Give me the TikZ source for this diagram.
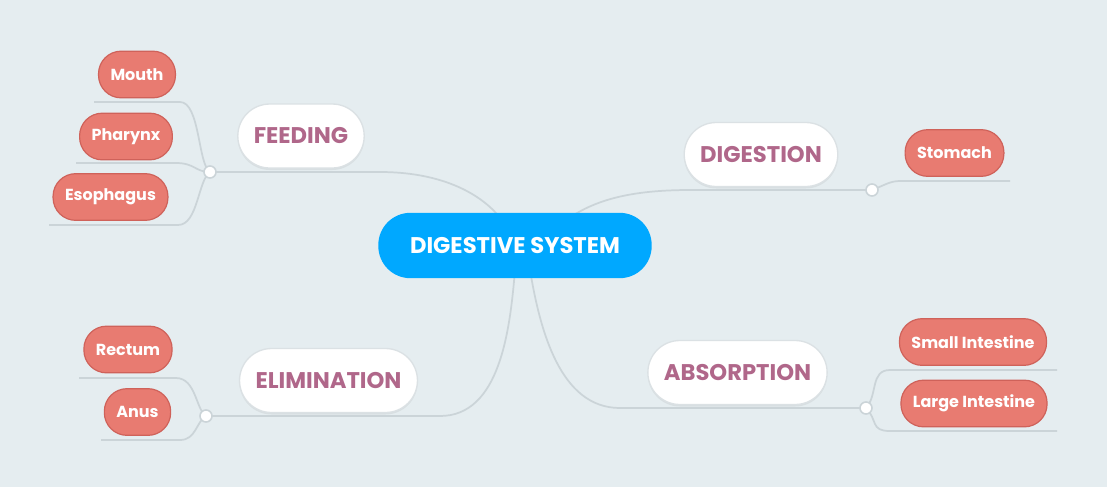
\documentclass[tikz,border=0pt]{standalone}
\usepackage{fontspec}
\setmainfont{Poppins}
\usetikzlibrary{shadows}
\definecolor{bg}{HTML}{E5EDF0}
\definecolor{cblue}{HTML}{00A8FF}
\definecolor{ctxt}{HTML}{B0678A}
\definecolor{leaf}{HTML}{E87B71}
\definecolor{leafb}{HTML}{CF625A}
\definecolor{lin}{HTML}{CBD4D8}
\tikzset{
 x=0.75pt,y=-0.75pt,
 conn/.style={draw=lin,line width=1.3pt},
 dot/.style={circle,draw=lin,line width=1.2pt,fill=white,inner sep=0pt,minimum size=9pt},
 branch/.style={rounded corners=24pt,fill=white,draw=lin!70,line width=1pt,text=ctxt,font=\bfseries\fontsize{17}{20}\selectfont,minimum height=48pt,inner xsep=12pt,drop shadow={opacity=0.12,shadow xshift=0pt,shadow yshift=-1.5pt}},
 leafn/.style={rounded corners=17pt,fill=leaf,draw=leafb,line width=0.9pt,text=white,font=\bfseries\fontsize{12}{14}\selectfont,minimum height=35pt,inner xsep=9pt},
}
\begin{document}
\begin{tikzpicture}
\fill[bg] (0,0) rectangle (1107,487);
\useasboundingbox (0,0) rectangle (1107,487);
% centre connectors
\coordinate (fe) at (210,172);
\coordinate (di) at (872,190);
\coordinate (ab) at (866,408);
\coordinate (el) at (206,416);
\draw[conn] (fe) -- (380,172) .. controls (450,172) and (490,200) .. (505,225);
\draw[conn] (di) -- (690,190) .. controls (630,190) and (590,200) .. (560,225);
\draw[conn] (ab) -- (620,408) .. controls (560,408) and (540,330) .. (530,270);
\draw[conn] (el) -- (440,416) .. controls (500,416) and (510,330) .. (515,270);
\node[rounded corners=24pt,fill=cblue,text=white,font=\bfseries\fontsize{17}{20}\selectfont,minimum width=205pt,minimum height=49pt] (c) at (515,245.5) {DIGESTIVE SYSTEM};
\node[branch] (feed) at (301,136) {FEEDING};
\node[branch] (dig) at (761,154.5) {DIGESTION};
\node[branch] (abs) at (737.5,372.5) {ABSORPTION};
\node[branch] (eli) at (328.5,380.5) {ELIMINATION};
% leaves
\node[leafn] (mo) at (137,74.5) {Mouth};
\node[leafn] (ph) at (126,136.5) {Pharynx};
\node[leafn] (es) at (110.5,197) {Esophagus};
\node[leafn] (st) at (954.5,153) {Stomach};
\node[leafn] (si) at (973,342) {Small Intestine};
\node[leafn] (li) at (974,403.5) {Large Intestine};
\node[leafn] (re) at (128,349.5) {Rectum};
\node[leafn] (an) at (137.5,412) {Anus};
% leaf connectors
\draw[conn] (94,102) -- (180,102) .. controls (200,102) and (198,165) .. (fe);
\draw[conn] (76,163) -- (176,163) .. controls (195,163) and (195,172) .. (fe);
\draw[conn] (49,225) -- (178,225) .. controls (198,225) and (198,180) .. (fe);
\draw[conn] (di) .. controls (885,185) and (890,181) .. (900,181) -- (1010,181);
\draw[conn] (ab) .. controls (878,395) and (870,370) .. (890,370) -- (1057,370);
\draw[conn] (ab) .. controls (878,420) and (870,431) .. (890,431) -- (1057,431);
\draw[conn] (79,378) -- (176,378) .. controls (196,378) and (196,410) .. (el);
\draw[conn] (101,440) -- (180,440) .. controls (196,440) and (196,422) .. (el);
\node[dot] at (fe) {};
\node[dot] at (di) {};
\node[dot] at (ab) {};
\node[dot] at (el) {};
\end{tikzpicture}
\end{document}
